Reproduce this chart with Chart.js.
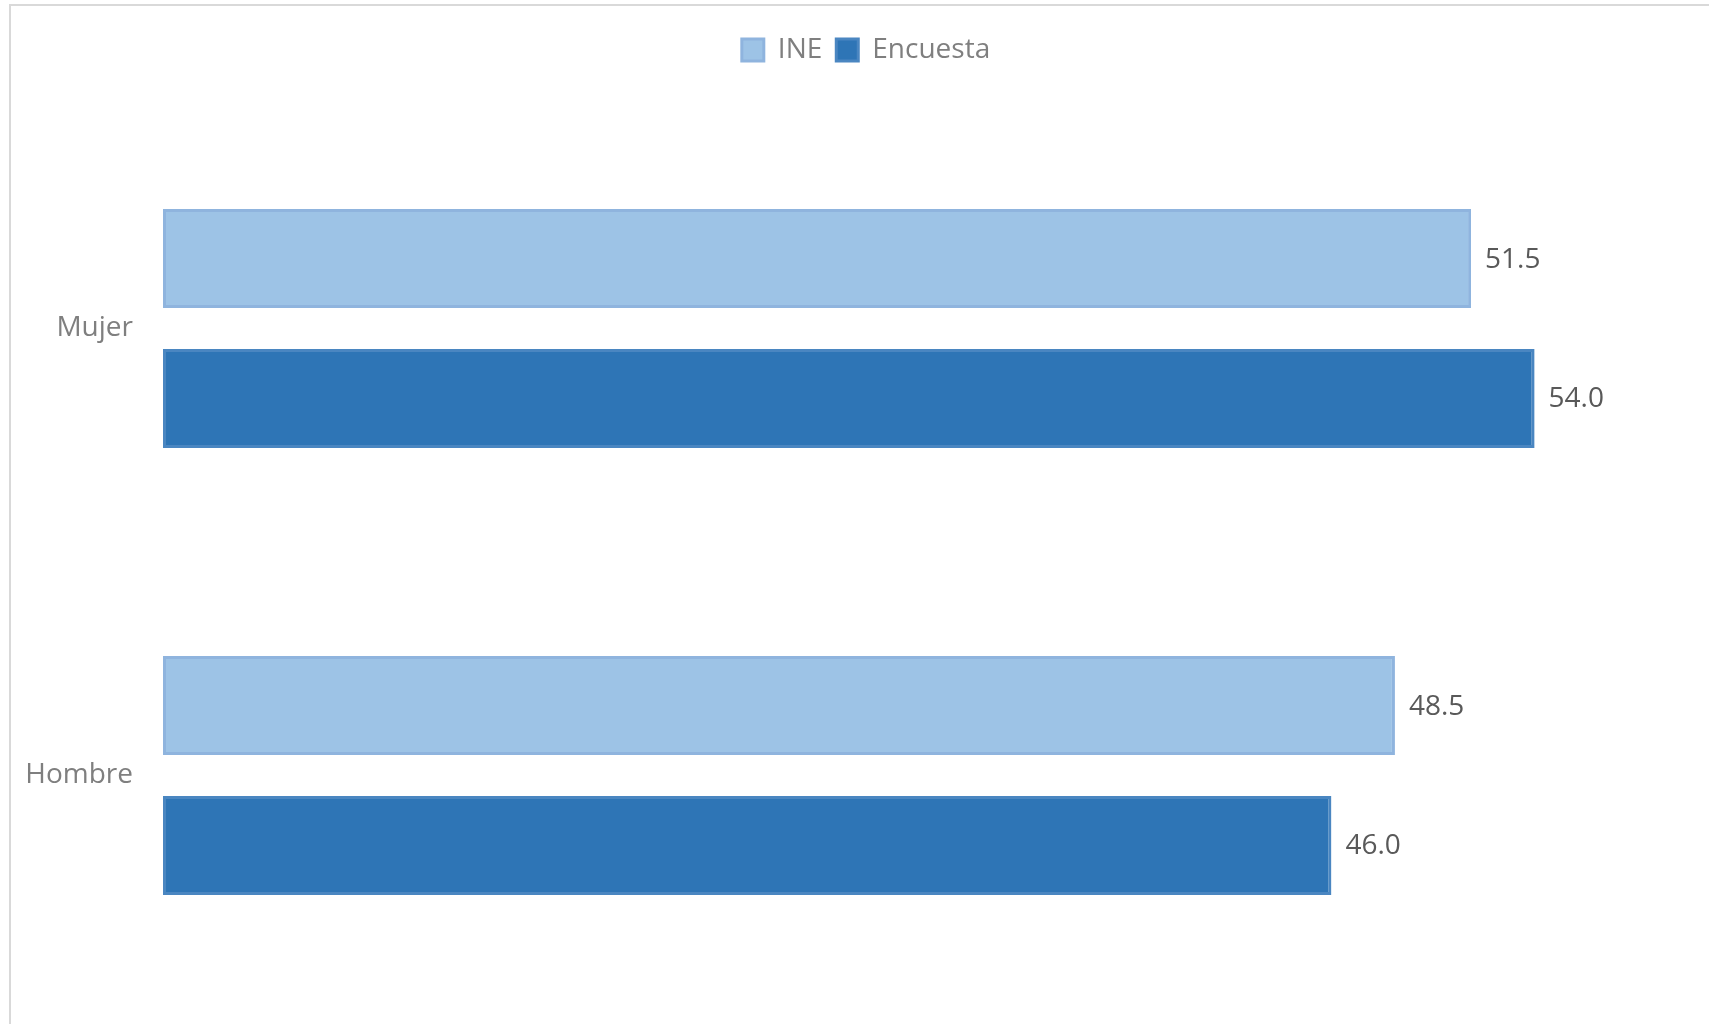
<!DOCTYPE html>
<html>
<head>
<meta charset="utf-8">
<script src="https://cdn.jsdelivr.net/npm/chart.js@4"></script>
<style>
  body { margin: 0; overflow: hidden; background: #fff; }
  #frame {
    position: absolute; left: 9px; top: 4px; width: 1800px; height: 1200px;
    border-left: 2px solid #d9d9d9; border-top: 2px solid #d9d9d9;
  }
  #wrap { position: absolute; left: 0; top: 0; width: 1709px; height: 1024px; }
</style>
</head>
<body>
<div id="frame"></div>
<div id="wrap"><canvas id="sexChart"></canvas></div>
<script>
const categories = ["Mujer", "Hombre"];
const ineValues = [51.5, 48.5];
const encuestaValues = [54.0, 46.0];

// value labels at the end of each bar
const barValueLabels = {
  id: "barValueLabels",
  afterDatasetsDraw(chart) {
    const ctx = chart.ctx;
    ctx.save();
    ctx.font = "28px 'Open Sans'";
    ctx.fillStyle = "#595959";
    ctx.textAlign = "left";
    ctx.textBaseline = "middle";
    chart.data.datasets.forEach((ds, i) => {
      chart.getDatasetMeta(i).data.forEach((bar, j) => {
        ctx.fillText(ds.data[j].toFixed(1), bar.x + 14, bar.y + 1);
      });
    });
    ctx.restore();
  },
};

// nudge the legend: a bit right and up, closer to the top edge
const legendNudge = {
  id: "legendNudge",
  afterLayout(chart) {
    const lg = chart.legend;
    lg.left += 11;
    lg.right += 11;
    lg.top -= 31;
    lg.bottom -= 31;
  },
};

const ctx = document.getElementById("sexChart").getContext("2d");
new Chart(ctx, {
  type: "bar",
  data: {
    labels: categories,
    datasets: [
      {
        label: "INE",
        data: ineValues,
        backgroundColor: "#9DC3E6",
        borderColor: "#8FB4DE",
        borderWidth: 3,
        borderSkipped: false,
      },
      {
        label: "Encuesta",
        data: encuestaValues,
        backgroundColor: "#2E75B6",
        borderColor: "#4A86C1",
        borderWidth: 3,
        borderSkipped: false,
      },
    ],
  },
  options: {
    indexAxis: "y",
    responsive: true,
    maintainAspectRatio: false,
    animation: false,
    categoryPercentage: 0.626,
    barPercentage: 0.707,
    layout: { padding: { top: 53, left: 23, right: 22, bottom: 25 } },
    scales: {
      x: {
        display: false,
        min: 0,
        max: 60,
      },
      y: {
        grid: { display: false, drawTicks: false },
        border: { display: false },
        ticks: {
          padding: 30,
          color: "#7f7f7f",
          font: { family: "'Open Sans'", size: 28 },
        },
        afterFit: (s) => {
          s.width = 140;
          s.paddingTop = 0;
          s.paddingBottom = 0;
        },
      },
    },
    plugins: {
      legend: {
        position: "top",
        labels: {
          boxWidth: 22,
          boxHeight: 22,
          padding: 14,
          color: "#7f7f7f",
          font: { family: "'Open Sans'", size: 28 },
        },
      },
      tooltip: { enabled: false },
    },
  },
  plugins: [barValueLabels, legendNudge],
});
</script>
</body>
</html>
